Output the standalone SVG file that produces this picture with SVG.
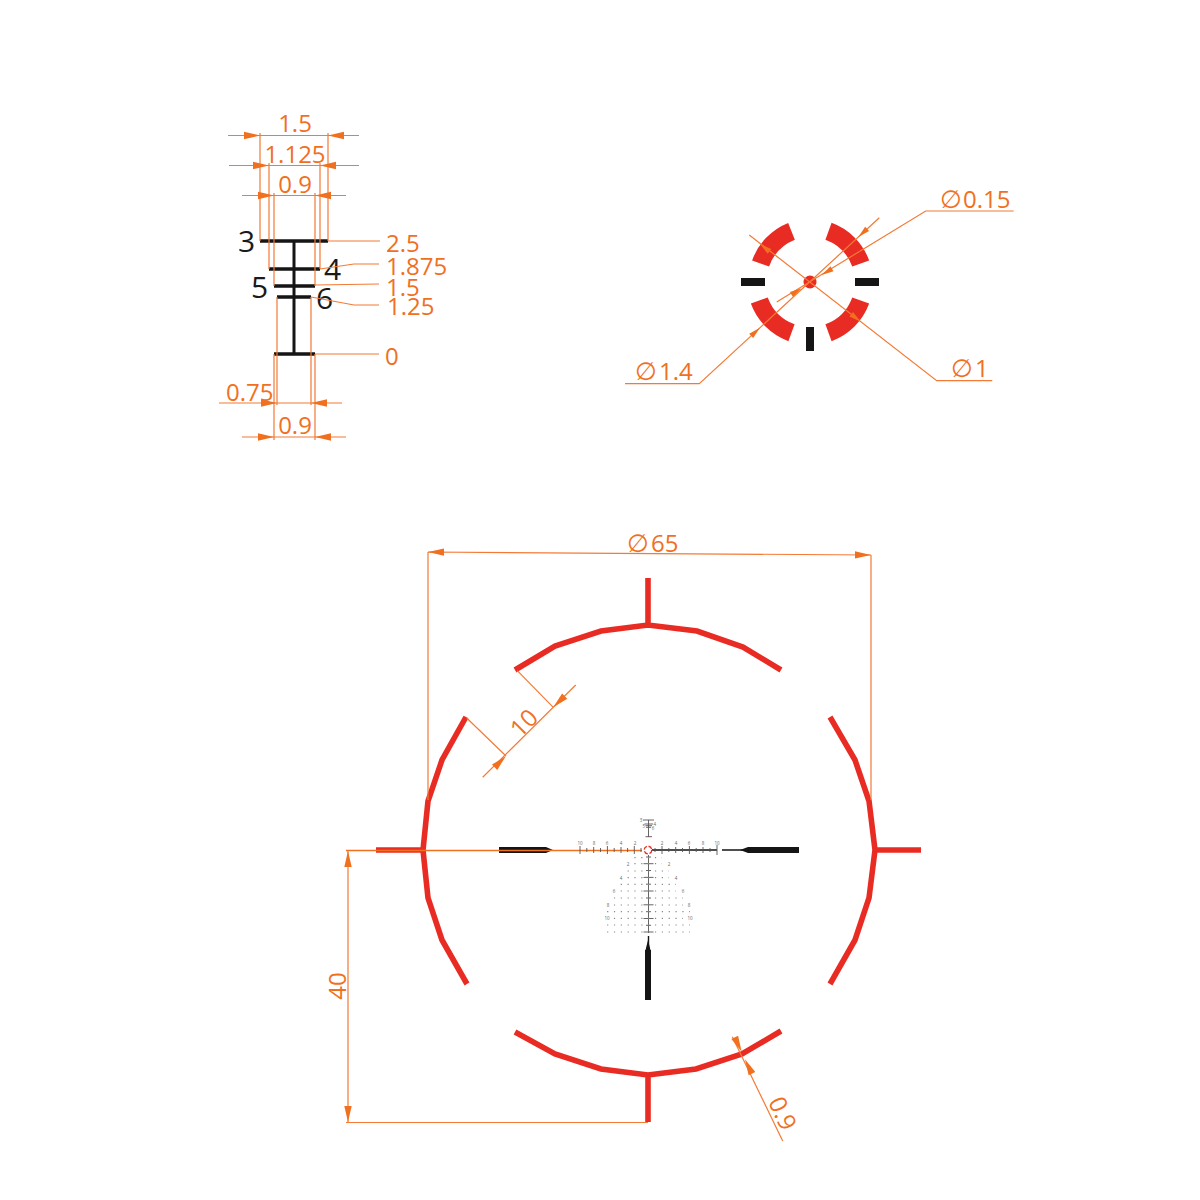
<svg xmlns="http://www.w3.org/2000/svg" width="1200" height="1200" viewBox="0 0 1200 1200">
<style>
text{font-family:"Open Sans","Liberation Sans",sans-serif}
.dim{fill:none;stroke:#f47a35;stroke-width:1.2}
.dt{fill:#f0701f;font-size:24px}
.sym{font-family:"DejaVu Sans",sans-serif;font-size:25px;font-weight:400}
.bk{fill:#1a1a1a;font-size:30px}
.blk{fill:none;stroke:#151515}
.red{fill:none;stroke:#e92c23;stroke-width:5.6}
.arc{fill:none;stroke:#e92c23;stroke-width:18}
.mini{fill:#666;font-size:4.5px;text-anchor:middle}
.grid{fill:none;stroke:#888;stroke-width:1.2;stroke-dasharray:1.2 5.64}
.tick{fill:none;stroke:#555;stroke-width:.9}
</style>
<defs><path id="a" d="M0 0L-16 -3.700L-16 3.700Z" fill="#f0701f"/><path id="s" d="M0 0L-12 -2.900L-12 2.900Z" fill="#f0701f"/></defs>

<g id="scale-reticle">
<path class="blk" stroke-width="3" d="M294 241V354"/>
<path class="blk" stroke-width="3.4" d="M260 241H328M269 269H320M274 286H315M277 297H311M274 354H315"/>
</g>
<g id="scale-labels" class="bk">
<text x="238" y="252">3</text><text x="324" y="280">4</text><text x="251" y="298">5</text><text x="316" y="309">6</text>
</g>

<g id="reticle-centre-zoom">
<circle cx="810" cy="282" r="6.5" fill="#e92c23"/>
<path class="arc" d="M760.6 263.5A54 54 0 0 1 791.5 231.3M828.5 231.3A54 54 0 0 1 860.7 263.5M860.7 300.5A54 54 0 0 1 828.5 332.7M791.5 332.7A54 54 0 0 1 759.3 300.5"/>
<path class="blk" stroke-width="8" d="M741 282H765M855 282H879M810 327V351"/>
</g>

<g id="main-reticle">
<path class="red" d="M515 670L555 646L601 631L648 625L697 631L743 647L781 670M648 578V625"/>
<path class="red" d="M830 717L855 760L869 801L875 850L869 898L855 940L830 984M875 850H921"/>
<path class="red" d="M466 717L442 760L428 801L423 850L428 898L442 940L467 984M376 850H423"/>
<path class="red" d="M515 1032L555 1054L601 1069L648 1075L696 1069L742 1054L781 1031M648 1075V1122"/>
</g>

<g id="centre-crosshair">
<path class="blk" stroke-width="6" d="M499 850H546M748 850H799M648 950V1000"/>
<path fill="#151515" d="M546 847L553 850L546 853ZM748 847L740 850L748 853ZM645.500 950L648 940L650.500 950Z"/>
<path class="blk" stroke-width="1.4" d="M648.500 936V950M652 850H717M722 850H748"/>
<path fill="none" stroke="#f0701f" stroke-width="1.5" d="M346 850.500H642"/>
<path class="tick" d="M580 846V854M593.700 847V853M607.400 846V854M621 847V853M634.300 846V854M662 846V854M675.700 847V853M689.400 846V854M703 847V853M717 845V855M586.800 848V852M600.500 848V852M614.200 848V852M627.600 848V852M641 848V852M655 848V852M668.800 848V852M682.500 848V852M696.200 848V852M710 848V852"/>
<path class="tick" d="M648.500 855V933M643.500 863.700H653.500M643.500 877.400H653.500M643.500 891H653.500M643.500 904.800H653.500M643.500 918.500H653.500M643.500 932H653.500M646 857H651M646 870.500H651M646 884.200H651M646 898H651M646 911.700H651M646 925.300H651"/>
<circle cx="648" cy="850" r="3.800" fill="none" stroke="#e92c23" stroke-width="1.300" stroke-dasharray="4.300 1.700"/>
<path class="grid" d="M634.400 857.700H662M634.400 863.700H662M627.600 871H669M627.600 877.700H669M620.700 884.400H676M620.700 891H676M613.900 898H683M613.900 905H683M607.100 911.700H690M613.900 918.400H683M607.100 925H690M607.100 932H690"/>
<text class="mini" x="580" y="845">10</text><text class="mini" x="594" y="845">8</text><text class="mini" x="607" y="845">6</text><text class="mini" x="621" y="845">4</text><text class="mini" x="635" y="845">2</text><text class="mini" x="662" y="845">2</text><text class="mini" x="676" y="845">4</text><text class="mini" x="689" y="845">6</text><text class="mini" x="703" y="845">8</text><text class="mini" x="717" y="845">10</text>
<text class="mini" x="628" y="866">2</text><text class="mini" x="669" y="866">2</text><text class="mini" x="621" y="880">4</text><text class="mini" x="676" y="880">4</text><text class="mini" x="614" y="893">6</text><text class="mini" x="683" y="893">6</text><text class="mini" x="608" y="907">8</text><text class="mini" x="689" y="907">8</text><text class="mini" x="607" y="920">10</text><text class="mini" x="690" y="920">10</text>
<path class="tick" d="M648.500 820V837M643 820H654M644.500 824H653M645.500 825.700H652M646 827.300H651M645.500 836.700H652"/>
<text class="mini" x="641" y="822">3</text><text class="mini" x="654.700" y="826">4</text><text class="mini" x="643.700" y="828">5</text><text class="mini" x="653" y="830">6</text>
</g>

<g id="connectors">
<path class="dim" d="M228 135.500H359M260 133V241M328 133V241M229 165.500H359M269 163V269M320 163V269M242 195.500H346M274 193V286M315 193V286M219 403H342M277 297V405M311 297V405M242 437H346M274 354V440M315 354V440"/>
<path class="dim" d="M328 241H380M320 269L354 264H379M315 285L379 284M311 297L354 305H379M315 354H379"/>
<use href="#a" x="260" y="135.500"/><use href="#a" transform="translate(328 135.500) rotate(180)"/>
<use href="#a" x="269" y="165.500"/><use href="#a" transform="translate(320 165.500) rotate(180)"/>
<use href="#a" x="274" y="195.500"/><use href="#a" transform="translate(315 195.500) rotate(180)"/>
<use href="#a" x="277" y="403"/><use href="#a" transform="translate(311 403) rotate(180)"/>
<use href="#a" x="274" y="437"/><use href="#a" transform="translate(315 437) rotate(180)"/>

<path class="dim" d="M776.700 302L925.700 211H1013.700M625 383.700H699.300L879.300 217.700M749.300 235L936.700 380.700H992.300"/>
<use href="#s" transform="translate(821.700 275) rotate(148.600)"/><use href="#s" transform="translate(801.700 288.300) rotate(-31.400)"/>
<use href="#s" transform="translate(760 327.700) rotate(-42.700)"/><use href="#s" transform="translate(858.300 237) rotate(137.300)"/>
<use href="#s" transform="translate(760 244) rotate(217.900)"/><use href="#s" transform="translate(860.700 321.700) rotate(37.900)"/>

<path class="dim" d="M428 552L871 555M428 552V800M871 555V800"/>
<use href="#a" transform="translate(428 552) rotate(180.400)"/><use href="#a" transform="translate(871 555) rotate(.4)"/>
<path class="dim" d="M348 851V1122M346 1122.500H648"/>
<use href="#a" transform="translate(348 851) rotate(-90)"/><use href="#a" transform="translate(348 1122) rotate(90)"/>
<path class="dim" d="M482.700 777.300L575.700 685M466.700 718L506 756M517.300 670.700L553.300 707.300"/>
<use href="#a" transform="translate(506 756) rotate(-44.700)"/><use href="#a" transform="translate(553.300 707.300) rotate(135.300)"/>
<path class="dim" d="M732.300 1036.700L782.700 1141"/>
<use href="#a" transform="translate(741.700 1051.700) rotate(64.200)"/><use href="#a" transform="translate(745 1059.300) rotate(244.200)"/>
</g>

<g id="dimension-labels" class="dt">
<text x="295" y="132" text-anchor="middle">1.5</text>
<text x="295" y="163" text-anchor="middle">1.125</text>
<text x="295" y="193" text-anchor="middle">0.9</text>
<text x="386" y="252">2.5</text>
<text x="386" y="275">1.875</text>
<text x="386" y="296">1.5</text>
<text x="387" y="315">1.25</text>
<text x="385" y="365">0</text>
<text x="226" y="401">0.75</text>
<text x="295" y="434" text-anchor="middle">0.9</text>
<text x="940" y="208"><tspan class="sym">∅</tspan></text><text x="963" y="208">0.15</text>
<text x="635" y="380"><tspan class="sym">∅</tspan></text><text x="659" y="380">1.4</text>
<text x="951" y="377"><tspan class="sym">∅</tspan></text><text x="975" y="377">1</text>
<text x="627" y="552"><tspan class="sym">∅</tspan></text><text x="651" y="552">65</text>
<text transform="translate(346 986) rotate(-90)" text-anchor="middle">40</text>
<text transform="translate(530 729) rotate(-45)" text-anchor="middle">10</text>
<text transform="translate(775 1117) rotate(65)" text-anchor="middle">0.9</text>
</g>
</svg>
